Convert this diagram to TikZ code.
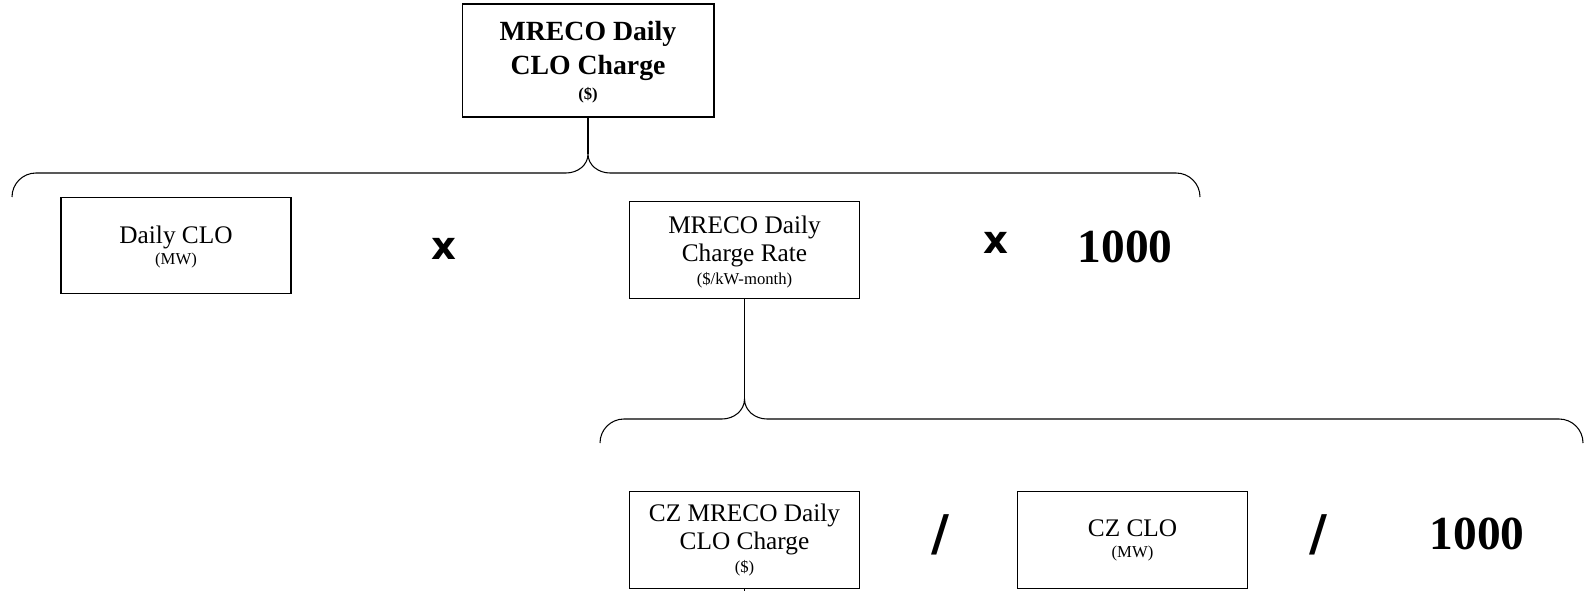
\documentclass[tikz,border=0pt]{standalone}
\usepackage{fontspec}
\setmainfont{Liberation Serif}
\newfontfamily\opfont{DejaVu Sans}
\newcommand{\unitsz}{\fontsize{9.5}{11}\selectfont}
\begin{document}
\begin{tikzpicture}[x=0.02cm,y=-0.02cm,line width=0.6pt,
  box/.style={draw,minimum width=4.6cm,minimum height=1.93cm,align=center,inner sep=0pt,
    font=\fontsize{14.4}{16}\selectfont},
  topbox/.style={box,minimum width=5.04cm,minimum height=2.26cm,
    font=\fontsize{15.8}{19.3}\selectfont\bfseries},
  op/.style={font=\opfont\bfseries\fontsize{22}{22}\selectfont},
  slash/.style={font=\opfont\bfseries\fontsize{28}{28}\selectfont},
  num/.style={font=\bfseries\fontsize{27}{27}\selectfont}]
\useasboundingbox (0,0) rectangle (1588,591);

% boxes
\node[topbox,text depth=-5.5pt] (total) at (588,60.5) {MRECO Daily\\CLO Charge\\[-5pt]{\unitsz(\$)}};
\node[box,text depth=0pt] (dailyclo) at (176,245.5) {Daily CLO\\[-4pt]{\unitsz(MW)}};
\node[box,text depth=0pt] (rate) at (744.5,250) {MRECO Daily\\Charge Rate\\[-3pt]{\unitsz(\$/kW-month)}};
\node[box] (czcharge) at (744.5,540) {CZ MRECO Daily\\CLO Charge\\[-3pt]{\unitsz(\$)}};
\node[box] (czclo) at (1132.5,540) {CZ CLO\\[-4pt]{\unitsz(MW)}};

% operators
\node[op] (x1) at (443.5,249) {x};
\node[op] (x2) at (996,243) {x};
\node[num] (k1) at (1125,247) {1000};
\node[slash] (d1) at (940,535) {/};
\node[slash] (d2) at (1318,535) {/};
\node[num] (k2) at (1477,534) {1000};

% braces
\coordinate (cusp1) at (588,154);
\coordinate (l1) at (12,197);
\coordinate (r1) at (1200,197);
\draw (total.south)--(cusp1);
\draw (l1) to[out=90,in=180] (36,173)--(566,173) to[out=0,in=-90] (cusp1)
  to[out=-90,in=180] (610,173)--(1176,173) to[out=0,in=90] (r1);

\coordinate (cusp2) at (744.5,399);
\coordinate (l2) at (600,443);
\coordinate (r2) at (1583,443);
\draw (rate.south)--(cusp2);
\draw (l2) to[out=90,in=180] (624,419)--(722,419) to[out=0,in=-90] (cusp2)
  to[out=-90,in=180] (767,419)--(1559,419) to[out=0,in=90] (r2);

\coordinate (czstem) at (744.5,600);
\draw (czcharge.south)--(czstem);
\end{tikzpicture}
\end{document}
